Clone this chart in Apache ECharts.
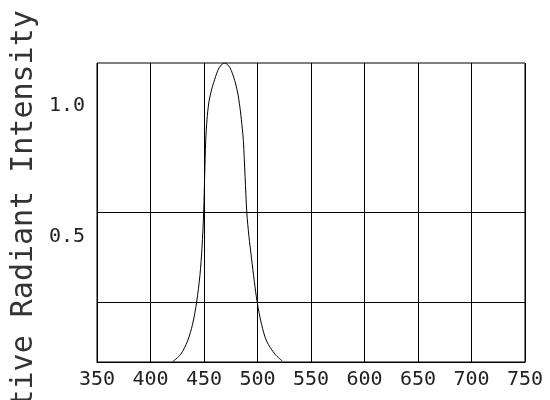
<!DOCTYPE html>
<html>
<head>
<meta charset="utf-8">
<script src="https://cdn.jsdelivr.net/npm/echarts@6/dist/echarts.min.js"></script>
<style>html,body{margin:0;padding:0;background:#fff;}#c{width:550px;height:400px;}</style>
</head>
<body>
<div id="c"></div>
<script>
// Wavelength (nm) and relative radiant intensity
var wavelengths = [420.4, 428.3, 434.6, 439.3, 443.1, 446.2, 448.1, 449.7, 450.6, 451.6, 452.8, 454.6, 457.0, 459.1, 462.9, 466.0, 469.2, 472.5, 475.5, 479.6, 482.0, 484.0, 485.8, 486.8, 488.4, 490.0, 492.0, 494.3, 497.0, 499.7, 503.8, 508.5, 516.4, 523.3];
var intensity   = [0.0,   0.026, 0.07,  0.126, 0.2,   0.29,  0.38,  0.5,   0.62,  0.74,  0.81,  0.87,  0.91,  0.935, 0.975, 0.993, 1.0,   0.993, 0.975, 0.93,  0.89,  0.84,  0.78,  0.74,  0.62,  0.5,   0.42,  0.35,  0.27,  0.2,   0.126, 0.07,  0.026, 0.003];
var xTicks = [350, 400, 450, 500, 550, 600, 650, 700, 750];
var yLabelValues = [0.5, 1.0];
var gridLevels = [0.2, 0.5];
var yTitle = 'Relative Radiant Intensity';

var data = wavelengths.map(function (w, i) { return [w, intensity[i]]; });
var font = 'DejaVu Sans Mono';

var chart = echarts.init(document.getElementById('c'), null, {renderer: 'canvas'});
chart.setOption({
  animation: false,
  backgroundColor: '#fff',
  grid: {left: 97, right: 25, top: 63, bottom: 38, show: true, borderColor: '#000', borderWidth: 1},
  xAxis: {
    type: 'value', min: xTicks[0], max: xTicks[xTicks.length - 1], interval: 50,
    axisLine: {show: true, lineStyle: {color: '#000', width: 1}},
    axisTick: {show: false},
    splitLine: {show: true, lineStyle: {color: '#000', width: 1}},
    axisLabel: {color: '#222', fontFamily: font, fontSize: 20, margin: 8}
  },
  yAxis: [{
    type: 'value', min: 0, max: 1,
    axisLine: {show: false}, axisTick: {show: false},
    splitLine: {show: false}, axisLabel: {show: false}
  }, {
    type: 'value', position: 'left', min: 0.0255, max: 1.1616,
    axisLine: {show: false}, axisTick: {show: false},
    splitLine: {show: false},
    axisLabel: {
      color: '#222', fontFamily: font, fontSize: 20, margin: 12,
      customValues: yLabelValues,
      formatter: function (v) { return v.toFixed(1); }
    }
  }],
  graphic: [{
    type: 'text', x: 24, y: 245, rotation: Math.PI / 2,
    style: {text: yTitle, font: '30px "DejaVu Sans Mono"', fill: '#333', align: 'center', verticalAlign: 'middle'}
  }],
  series: [{
    type: 'line', yAxisIndex: 0, data: data, smooth: 0.3,
    symbol: 'none', lineStyle: {color: '#000', width: 1},
    markLine: {
      silent: true, symbol: 'none', label: {show: false},
      lineStyle: {color: '#000', width: 1, type: 'solid'},
      data: gridLevels.map(function (g) { return {yAxis: g}; })
    }
  }]
});
</script>
</body>
</html>
